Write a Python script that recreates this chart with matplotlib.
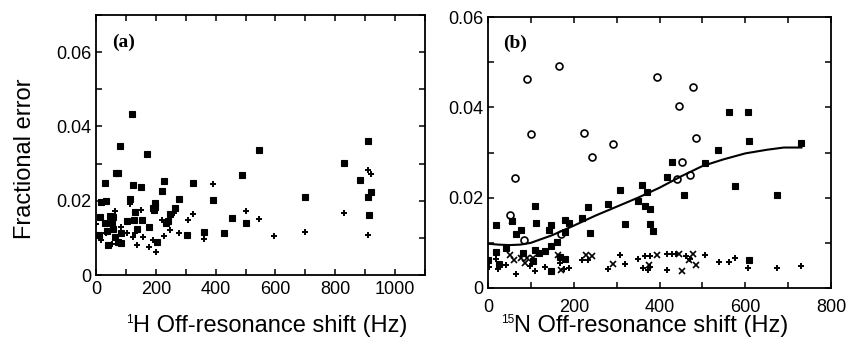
import matplotlib
matplotlib.use("Agg")
import matplotlib.pyplot as plt
from matplotlib.ticker import MultipleLocator, FuncFormatter

# ---- panel (a): 1H off-resonance shift ----
a_star_x = [121, 80, 169, 66, 75, 31, 125, 150, 229, 219, 325, 276, 115, 35, 16,
            197, 197, 194, 129, 390, 489, 545, 830, 883, 909, 909, 920, 914, 699,
            454, 500, 429, 360, 305, 263, 247, 234, 242, 155, 178, 136, 126, 105,
            84, 72, 84, 65, 53, 58, 47, 13, 36, 41, 58, 30, 10, 203, 192]
a_star_y = [0.0434, 0.0346, 0.0327, 0.0275, 0.0275, 0.0249, 0.0243, 0.0236, 0.0254,
            0.0227, 0.0249, 0.0204, 0.0204, 0.0199, 0.0196, 0.0195, 0.0183, 0.0175,
            0.0169, 0.0201, 0.0269, 0.0336, 0.0301, 0.0256, 0.0362, 0.0211, 0.0224,
            0.0162, 0.0210, 0.0153, 0.0139, 0.0114, 0.0115, 0.0108, 0.0180, 0.0165,
            0.0139, 0.0146, 0.0148, 0.0129, 0.0124, 0.0147, 0.0146, 0.0112, 0.0089,
            0.0087, 0.0102, 0.0139, 0.0157, 0.0159, 0.0156, 0.0119, 0.0081, 0.0125,
            0.0139, 0.0107, 0.0088, 0.0180]
a_plus_x = [390, 325, 306, 278, 228, 219, 361, 501, 545, 595, 699, 830, 909, 920,
            909, 202, 178, 138, 156, 149, 114, 123, 131, 105, 85, 63, 52, 16, 0, 5,
            33, 192, 262, 248]
a_plus_y = [0.0246, 0.0164, 0.0147, 0.0112, 0.0105, 0.0148, 0.0096, 0.0172, 0.0151,
            0.0105, 0.0115, 0.0166, 0.0284, 0.0272, 0.0108, 0.0061, 0.0076, 0.0081,
            0.0102, 0.0175, 0.0191, 0.0103, 0.0112, 0.0112, 0.0130, 0.0171, 0.0083,
            0.0094, 0.0138, 0.0107, 0.0112, 0.0094, 0.0167, 0.0120]

# ---- panel (b): 15N off-resonance shift ----
b_circ_x = [166, 90, 395, 479, 445, 101, 225, 292, 242, 484, 63, 453, 441, 471, 51, 84, 171]
b_circ_y = [0.0492, 0.0462, 0.0468, 0.0446, 0.0403, 0.0342, 0.0343, 0.0319, 0.0291,
            0.0331, 0.0243, 0.0280, 0.0242, 0.0251, 0.0162, 0.0106, 0.0119]
b_star_x = [561, 606, 609, 731, 537, 506, 429, 417, 577, 458, 674, 360, 372, 351, 367,
            378, 378, 385, 307, 280, 234, 219, 237, 320, 179, 189, 179, 161, 148, 133,
            118, 109, 111, 78, 66, 55, 19, 148, 142, 41, 19, 25, 1, 109, 105, 146, 82,
            167, 180, 609]
b_star_y = [0.0390, 0.0390, 0.0325, 0.0322, 0.0305, 0.0276, 0.0280, 0.0246, 0.0225,
            0.0207, 0.0205, 0.0227, 0.0212, 0.0193, 0.0181, 0.0176, 0.0141, 0.0126,
            0.0216, 0.0187, 0.0179, 0.0155, 0.0122, 0.0142, 0.0150, 0.0145, 0.0123,
            0.0101, 0.0092, 0.0081, 0.0077, 0.0181, 0.0144, 0.0128, 0.0119, 0.0149,
            0.0140, 0.0140, 0.0129, 0.0089, 0.0080, 0.0053, 0.0061, 0.0085, 0.0059,
            0.0038, 0.0077, 0.0069, 0.0064, 0.0062]
b_plus_x = [731, 674, 606, 577, 561, 538, 507, 417, 429, 438, 417, 378, 366, 350, 378,
            361, 374, 320, 307, 280, 220, 234, 188, 177, 132, 109, 66, 41, 24, 18, 2,
            462, 471, 167, 97]
b_plus_y = [0.0049, 0.0045, 0.0044, 0.0067, 0.0058, 0.0058, 0.0073, 0.0075, 0.0075,
            0.0075, 0.0039, 0.0070, 0.0070, 0.0064, 0.0046, 0.0044, 0.0039, 0.0053,
            0.0073, 0.0042, 0.0061, 0.0061, 0.0044, 0.0042, 0.0046, 0.0037, 0.0031,
            0.0052, 0.0041, 0.0064, 0.0046, 0.0071, 0.0064, 0.0055, 0.0048]
b_cross_x = [55, 51, 61, 87, 90, 171, 228, 242, 292, 376, 395, 445, 453, 479, 484,
             469, 163, 78, 105]
b_cross_y = [0.0148, 0.0072, 0.0063, 0.0055, 0.0066, 0.0039, 0.0073, 0.0070, 0.0053,
             0.0052, 0.0074, 0.0075, 0.0038, 0.0075, 0.0052, 0.0061, 0.0074, 0.0066,
             0.0066]
fit_x = [0, 25, 50, 75, 100, 150, 200, 250, 300, 350, 400, 450, 500, 550, 600, 650, 690, 731]
fit_y = [0.0098, 0.0096, 0.0095, 0.0096, 0.0100, 0.0117, 0.0138, 0.0160, 0.0180,
         0.0200, 0.0222, 0.0247, 0.0270, 0.0285, 0.0298, 0.0306, 0.0311, 0.0311]

plt.rcParams["font.family"] = ["Liberation Sans", "DejaVu Sans"]

W, H = 847, 338
fig = plt.figure(figsize=(W / 100, H / 100), dpi=100)


def px_axes(left, top, right, bottom):
    return fig.add_axes([left / W, (H - bottom) / H, (right - left) / W, (bottom - top) / H])


def style(ax, xpad):
    for s in ax.spines.values():
        s.set_linewidth(1.3)
    ax.yaxis.set_major_locator(MultipleLocator(0.02))
    ax.yaxis.set_minor_locator(MultipleLocator(0.01))
    ax.xaxis.set_major_locator(MultipleLocator(200))
    ax.xaxis.set_minor_locator(MultipleLocator(100))
    ax.yaxis.set_major_formatter(FuncFormatter(lambda v, p: "0" if v == 0 else f"{v:.2f}"))
    ax.tick_params(which="both", direction="in", top=True, right=True, width=1.1,
                   length=4, labelsize=13)
    ax.tick_params(axis="x", pad=xpad)
    ax.tick_params(axis="y", pad=3)


def xlabel(x_px, sup, main):
    # x label with a small superscript isotope number, baseline near figure bottom
    base = (H - 332) / H
    fig.text(x_px / W, base, main, fontsize=17, ha="left", va="baseline")
    fig.text(x_px / W, (H - 314) / H, sup, fontsize=8.5, ha="right", va="top")


kw_star = dict(marker="s", ls="none", color="black", ms=4.3, mew=0.8)
kw_plus = dict(marker="+", ls="none", color="black", ms=5, mew=1.4)

ax1 = px_axes(96, 15, 425, 275)
ax1.plot(a_star_x, a_star_y, **kw_star)
ax1.plot(a_plus_x, a_plus_y, **kw_plus)
ax1.set_xlim(0, 1100)
ax1.set_ylim(0, 0.07)
style(ax1, 4)
ax1.set_ylabel("Fractional error", fontsize=17)
ax1.yaxis.set_label_coords(-0.182, 0.446)
ax1.text(0.049, 0.896, "(a)", transform=ax1.transAxes, fontsize=14, fontweight="bold",
         family="Liberation Serif", va="center", ha="left")
xlabel(133, "1", "H Off-resonance shift (Hz)")

ax2 = px_axes(488, 17, 831, 288)
ax2.plot(fit_x, fit_y, color="black", lw=1.5)
ax2.plot(b_circ_x, b_circ_y, marker="o", ls="none", mfc="none", mec="black", ms=5, mew=1.2)
ax2.plot(b_star_x, b_star_y, **kw_star)
ax2.plot(b_plus_x, b_plus_y, **kw_plus)
ax2.plot(b_cross_x, b_cross_y, marker="x", ls="none", color="black", ms=4.5, mew=1.2)
ax2.set_xlim(0, 800)
ax2.set_ylim(0, 0.06)
style(ax2, 8)
ax2.text(0.044, 0.904, "(b)", transform=ax2.transAxes, fontsize=14, fontweight="bold",
         family="Liberation Serif", va="center", ha="left")
xlabel(514, "15", "N Off-resonance shift (Hz)")

fig.savefig("out.png", dpi=100)
